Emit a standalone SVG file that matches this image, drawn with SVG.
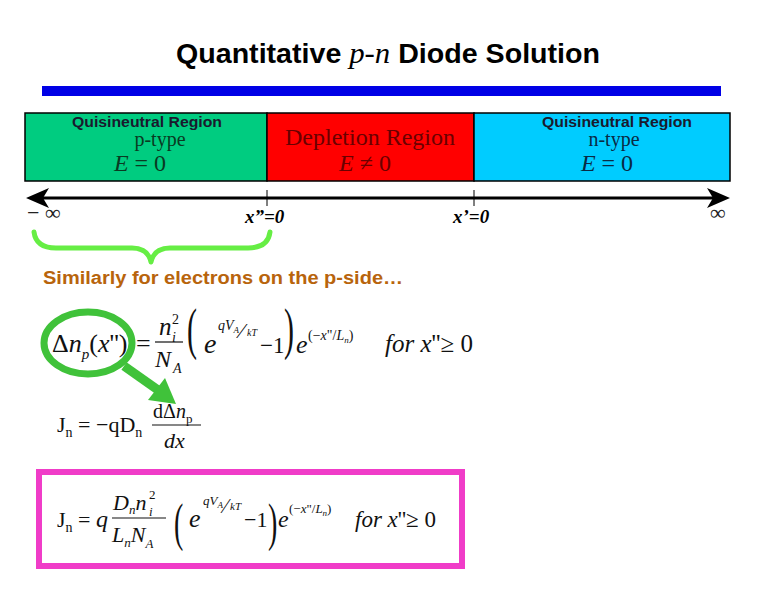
<svg xmlns="http://www.w3.org/2000/svg" width="762" height="600" viewBox="0 0 762 600">
<style>
.ser{font-family:"Liberation Serif","Times New Roman",serif;}
.san{font-family:"Liberation Sans",Arial,sans-serif;}
.it{font-style:italic;}
.lbl{font-family:"Liberation Sans",Arial,sans-serif;font-size:14px;font-weight:bold;fill:#1a1a2e;}
.eq{font-family:"Liberation Serif","Times New Roman",serif;fill:#111;}
</style>
<rect width="762" height="600" fill="#fff"/>
<g id="title">
<text x="388" y="63" text-anchor="middle" class="san" font-size="27" font-weight="bold" fill="#000" textLength="424" lengthAdjust="spacingAndGlyphs">Quantitative <tspan class="ser it" font-weight="normal" font-size="29">p-n</tspan> Diode Solution</text>
<rect x="42" y="86" width="679" height="10" fill="#0000e6"/>
</g>
<g id="p-region">
<rect x="25" y="113" width="242" height="68" fill="#00cc80" stroke="#000" stroke-width="1.5"/>
<text x="147" y="127" text-anchor="middle" class="lbl" textLength="150" lengthAdjust="spacingAndGlyphs">Quisineutral Region</text>
<text x="160" y="146" text-anchor="middle" class="ser" font-size="20" fill="#0a3a22">p-type</text>
<text x="140" y="171" text-anchor="middle" class="ser" font-size="24" fill="#0a3a22"><tspan class="it">E</tspan> = 0</text>
</g>
<g id="depletion-region">
<rect x="267" y="113" width="207" height="68" fill="#ff0000" stroke="#000" stroke-width="1.5"/>
<text x="370" y="145" text-anchor="middle" class="ser" font-size="24" fill="#6a0000" textLength="170" lengthAdjust="spacingAndGlyphs">Depletion Region</text>
<text x="365" y="171" text-anchor="middle" class="ser" font-size="24" fill="#6a0000"><tspan class="it">E</tspan> ≠ 0</text>
</g>
<g id="n-region">
<rect x="474" y="113" width="256" height="68" fill="#00ccff" stroke="#000" stroke-width="1.5"/>
<text x="617" y="127" text-anchor="middle" class="lbl" textLength="150" lengthAdjust="spacingAndGlyphs">Quisineutral Region</text>
<text x="614" y="146" text-anchor="middle" class="ser" font-size="20" fill="#0a2a44">n-type</text>
<text x="607" y="171" text-anchor="middle" class="ser" font-size="24" fill="#0a2a44"><tspan class="it">E</tspan> = 0</text>
</g>
<g id="axis">
<line x1="42" y1="198" x2="714" y2="198" stroke="#000" stroke-width="3"/>
<path d="M26,198 L49,188 L43,198 L49,208 Z" fill="#000"/>
<path d="M730,198 L707,188 L713,198 L707,208 Z" fill="#000"/>
<line x1="267" y1="190" x2="267" y2="206" stroke="#000" stroke-width="1"/>
<line x1="474" y1="190" x2="474" y2="206" stroke="#000" stroke-width="1"/>
<text x="27" y="220" class="ser" font-size="22" fill="#222">− ∞</text>
<text x="245" y="223" class="ser it" font-weight="bold" font-size="19" fill="#000">x”=0</text>
<text x="453" y="223" class="ser it" font-weight="bold" font-size="19" fill="#000">x’=0</text>
<text x="710" y="220" class="ser" font-size="22" fill="#222">∞</text>
</g>
<g id="brace">
<path d="M34,232 Q36,248 56,248 L132,248 Q148,248 151,262 Q154,248 170,248 L248,248 Q268,248 270,232" fill="none" stroke="#66ee44" stroke-width="5" stroke-linecap="round" stroke-linejoin="round"/>
</g>
<g id="caption">
<text x="43" y="284" class="san" font-weight="bold" font-size="18" fill="#b8640c" textLength="360" lengthAdjust="spacingAndGlyphs">Similarly for electrons on the p-side…</text>
</g>
<g id="eq1" class="eq">
<text x="52" y="352" font-size="26">Δ<tspan class="it">n</tspan><tspan class="it" font-size="15" dy="7">p</tspan><tspan dy="-7">(</tspan><tspan class="it">x</tspan>'')</text>
<text x="136" y="352" font-size="26">=</text>
<text x="159" y="335" font-size="25" class="it">n</text>
<text x="172" y="342" font-size="14" class="it">i</text>
<text x="172" y="324" font-size="14">2</text>
<line x1="155" y1="342" x2="183" y2="342" stroke="#111" stroke-width="1.2"/>
<text x="155" y="367" font-size="24" class="it">N</text>
<text x="173" y="373" font-size="14" class="it">A</text>
<text x="187" y="183" font-size="30" transform="scale(1,1.9)">(</text>
<text x="204" y="353" font-size="28" class="it">e</text>
<text x="218" y="330" font-size="14" class="it">qV<tspan font-size="9" dy="3">A</tspan></text>
<text x="240" y="338" font-size="22">⁄</text>
<text x="247" y="336" font-size="10" class="it">kT</text>
<text x="260" y="353" font-size="23">−1</text>
<text x="284" y="183" font-size="30" transform="scale(1,1.9)">)</text>
<text x="296" y="353" font-size="26" class="it">e</text>
<text x="308" y="340" font-size="14">(−<tspan class="it">x</tspan>"/<tspan class="it">L</tspan><tspan class="it" font-size="9" dy="3">n</tspan><tspan dy="-3">)</tspan></text>
<text x="385" y="352" font-size="25"><tspan class="it">for x</tspan>''≥ 0</text>
</g>
<g id="eq2" class="eq">
<text x="57" y="432" font-size="22">J<tspan font-size="14" dy="5">n</tspan><tspan dy="-5"> = −qD</tspan><tspan font-size="14" dy="5">n</tspan></text>
<text x="153" y="418" font-size="20">dΔ<tspan class="it">n</tspan><tspan font-size="13" dy="5">p</tspan></text>
<line x1="152" y1="425" x2="201" y2="425" stroke="#111" stroke-width="1.2"/>
<text x="164" y="448" font-size="22" class="it">dx</text>
</g>
<g id="highlight">
<ellipse cx="88" cy="343" rx="44" ry="31" fill="none" stroke="#40c23a" stroke-width="7"/>
<line x1="124" y1="366" x2="158" y2="390" stroke="#40c23a" stroke-width="9"/>
<path d="M176,404 L148,400 L165,378 Z" fill="#40c23a"/>
</g>
<g id="result">
<rect x="39" y="472" width="423" height="94" fill="#fff" stroke="#f03cc8" stroke-width="6"/>
<g class="eq">
<text x="57" y="527" font-size="22">J<tspan font-size="14" dy="5">n</tspan><tspan dy="-5"> = </tspan><tspan class="it" font-size="24">q</tspan></text>
<text x="113" y="510" font-size="22" class="it">D<tspan font-size="13" dy="4">n</tspan><tspan font-size="22" dy="-4">n</tspan></text>
<text x="149" y="516" font-size="13" class="it">i</text>
<text x="149" y="499" font-size="13">2</text>
<line x1="112" y1="518" x2="166" y2="518" stroke="#111" stroke-width="1.2"/>
<text x="112" y="542" font-size="22" class="it">L<tspan font-size="13" dy="5">n</tspan><tspan font-size="22" dy="-5">N</tspan><tspan font-size="13" dy="6">A</tspan></text>
<text x="174" y="284" font-size="28" transform="scale(1,1.9)">(</text>
<text x="189" y="527" font-size="26" class="it">e</text>
<text x="203" y="505" font-size="13" class="it">qV<tspan font-size="9" dy="3">A</tspan></text>
<text x="224" y="513" font-size="20">⁄</text>
<text x="230" y="510" font-size="11" class="it">kT</text>
<text x="244" y="527" font-size="22">−1</text>
<text x="268" y="284" font-size="28" transform="scale(1,1.9)">)</text>
<text x="278" y="527" font-size="24" class="it">e</text>
<text x="289" y="513" font-size="13">(−<tspan class="it">x</tspan>"/<tspan class="it">L</tspan><tspan class="it" font-size="9" dy="3">n</tspan><tspan dy="-3">)</tspan></text>
<text x="355" y="527" font-size="23"><tspan class="it">for x</tspan>''≥ 0</text>
</g>
</g>
</svg>
